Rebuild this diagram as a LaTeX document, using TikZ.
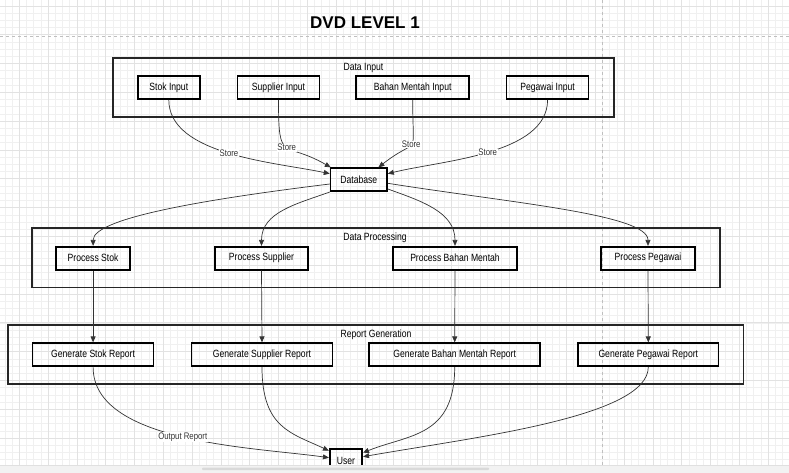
\documentclass[tikz,border=0pt]{standalone}
\usepackage{fontspec}
\setmainfont{Liberation Sans}
\newfontfamily\boxfont[FakeStretch=0.82]{Liberation Sans}
\usepackage{xcolor}
\usetikzlibrary{positioning,arrows.meta}
\definecolor{edgegray}{HTML}{333333}
\definecolor{gridminor}{HTML}{F0F0F0}
\definecolor{gridmajor}{HTML}{E2E2E2}

\begin{document}
\begin{tikzpicture}[x=1pt,y=-1pt,
  box/.style={draw=black,line width=1.6pt,minimum height=23pt,inner sep=0pt,
    font=\boxfont\fontsize{10.5}{12}\selectfont},
  group/.style={draw=black!85,line width=1.6pt,inner sep=0pt},
  grouplabel/.style={font=\boxfont\fontsize{10.5}{12}\selectfont,inner sep=0pt},
  flow/.style={draw=edgegray,line width=0.7pt,-{Triangle[length=6pt,width=5pt]}},
  lbl/.style={font=\boxfont\fontsize{9.5}{11}\selectfont,text=edgegray,fill=white,inner sep=0.5pt}]
\useasboundingbox (0,0) rectangle (789,473);
% grid
\foreach \i in {0,...,109} \draw[gridminor,line width=0.6pt] ({4.9+7.2*\i},0) -- ({4.9+7.2*\i},465);
\foreach \i in {0,...,64} \draw[gridminor,line width=0.6pt] (0,{6+7.2*\i}) -- (789,{6+7.2*\i});
\foreach \i in {0,...,27} \draw[gridmajor,line width=0.7pt] ({19.3+28.8*\i},0) -- ({19.3+28.8*\i},465);
\foreach \i in {0,...,16} \draw[gridmajor,line width=0.7pt] (0,{6+28.8*\i}) -- (789,{6+28.8*\i});
\draw[black!25,dashed,line width=0.7pt] (0,36.7) -- (789,36.7);
\draw[black!25,dashed,line width=0.7pt] (602.3,0) -- (602.3,465);

\node[font=\bfseries\fontsize{17}{20}\selectfont] (title) at (365,22.3) {DVD LEVEL 1};

% groups
\node[group,minimum width=501pt,minimum height=59pt] (inputgrp) at (363.4,87.5) {};
\node[grouplabel] at (363.4,67.7) {Data Input};
\node[group,minimum width=688pt,minimum height=59.5pt] (procgrp) at (376,257.8) {};
\node[grouplabel] at (375,237.7) {Data Processing};
\node[group,minimum width=735.7pt,minimum height=59pt] (gengrp) at (375.7,354.7) {};
\node[grouplabel] at (376,335) {Report Generation};

% inputs
\node[box,minimum width=62pt] (stokin) at (168.8,87.5) {Stok Input};
\node[box,minimum width=82pt] (supin) at (278.5,87.5) {Supplier Input};
\node[box,minimum width=113pt] (bahanin) at (412.7,87.5) {Bahan Mentah Input};
\node[box,minimum width=82pt] (pegin) at (547.6,87.5) {Pegawai Input};

\node[box,minimum width=56.5pt] (db) at (358.8,179.7) {Database};

% processing
\node[box,minimum width=74pt] (procstok) at (93.1,258.2) {Process Stok};
\node[box,minimum width=92.5pt] (procsup) at (261.5,258.2) {Process Supplier};
\node[box,minimum width=123.5pt] (procbahan) at (455,258.2) {Process Bahan Mentah};
\node[box,minimum width=93.5pt] (procpeg) at (648,258.2) {Process Pegawai};

% reports
\node[box,minimum width=121pt] (genstok) at (93.1,354.7) {Generate Stok Report};
\node[box,minimum width=141pt] (gensup) at (262,354.7) {Generate Supplier Report};
\node[box,minimum width=171pt] (genbahan) at (454.7,354.7) {Generate Bahan Mentah Report};
\node[box,minimum width=140.5pt] (genpeg) at (648.3,354.7) {Generate Pegawai Report};

\node[box,minimum width=32.5pt] (user) at (346,460.5) {User};

% store
\draw[flow] (stokin.south) to[out=-90,in=168,looseness=0.8] node[lbl,pos=0.5] {Store} ([yshift=6pt]db.west);
\draw[flow] (supin.south) to[out=-90,in=150,out looseness=1.95,in looseness=1.65] node[lbl,pos=0.5] {Store} ([xshift=1pt]db.north west);
\draw[flow] (bahanin.south) to[out=-90,in=38,out looseness=2.1,in looseness=1.8] node[lbl,pos=0.5] {Store} ([xshift=-9.5pt]db.north east);
\draw[flow] (pegin.south) to[out=-90,in=14,looseness=0.8] node[lbl,pos=0.5] {Store} ([yshift=6pt]db.east);

% database to processing
\draw[flow] ([yshift=-4.3pt]db.west) to[out=187,in=90,out looseness=1.2,in looseness=0.3] (procstok.north);
\draw[flow] (db.south west) to[out=200,in=90] (procsup.north);
\draw[flow] ([yshift=3pt]db.south east) to[out=-20,in=90] (procbahan.north);
\draw[flow] ([yshift=-3.6pt]db.east) to[out=-9,in=90,out looseness=1.2,in looseness=0.3] (procpeg.north);

\foreach \p/\g in {procstok/genstok,procsup/gensup,procbahan/genbahan,procpeg/genpeg}
  \draw[flow] (\p.south) -- (\g.north);

% output
\draw[flow] (genstok.south) to[out=-90,in=172,looseness=0.77] node[lbl,pos=0.5] {Output Report} ([yshift=2.8pt]user.west);
\draw[flow] (gensup.south) to[out=-90,in=155,out looseness=1.45,in looseness=1] ([yshift=9.8pt]user.west);
\draw[flow] (genbahan.south) to[out=-90,in=22,out looseness=1.43,in looseness=1] ([yshift=7.8pt]user.east);
\draw[flow] (genpeg.south) to[out=-90,in=10,out looseness=0.43,in looseness=0.95] ([yshift=3.8pt]user.east);

% scroll bar
\fill[black!5] (0,465) rectangle (789,473);
\draw[black!12,line width=0.7pt] (0,465.3) -- (789,465.3);
\fill[black!15,rounded corners=1pt] (202,467.5) rectangle (489,470);
\end{tikzpicture}
\end{document}
